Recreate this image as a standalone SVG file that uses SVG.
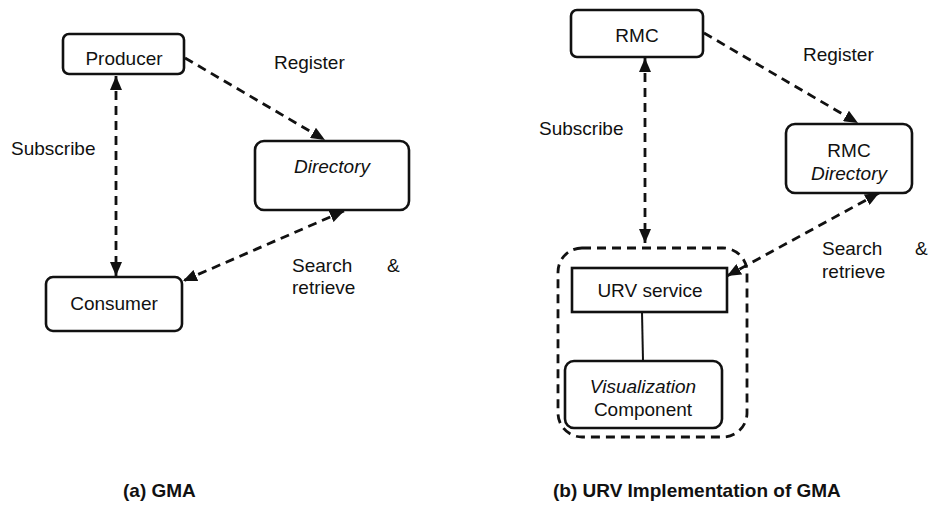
<svg xmlns="http://www.w3.org/2000/svg" width="936" height="506" viewBox="0 0 936 506">
  <style>
    text { font-family: "Liberation Sans", Arial, sans-serif; font-size: 19px; fill: #111; }
    .c { text-anchor: middle; }
    .it { font-style: italic; }
    .cap { font-weight: bold; }
    .box { fill: #fff; stroke: #111; stroke-width: 2.6; }
    .dash { fill: none; stroke: #111; stroke-width: 2.8; stroke-dasharray: 9 6; }
    .solid { fill: none; stroke: #111; stroke-width: 2; }
  </style>
  <defs>
    <marker id="arrow" viewBox="0 0 14 12" refX="14" refY="6" markerWidth="14" markerHeight="12" markerUnits="userSpaceOnUse" orient="auto-start-reverse">
      <path d="M0,0 L14,6 L0,12 z" fill="#111"/>
    </marker>
  </defs>
  <rect width="936" height="506" fill="#fff"/>

  <!-- connectors -->
  <g id="connectors">
    <!-- (a) GMA -->
    <line class="dash" x1="116" y1="76" x2="116" y2="276" marker-start="url(#arrow)" marker-end="url(#arrow)"/>
    <line class="dash" x1="185" y1="58" x2="325" y2="140" marker-end="url(#arrow)"/>
    <line class="dash" x1="344" y1="211" x2="183" y2="281" marker-start="url(#arrow)" marker-end="url(#arrow)"/>
    <!-- (b) URV implementation -->
    <line class="dash" x1="645" y1="58" x2="645" y2="243" marker-start="url(#arrow)" marker-end="url(#arrow)"/>
    <line class="dash" x1="704" y1="33" x2="858" y2="123" marker-end="url(#arrow)"/>
    <line class="dash" x1="879" y1="193" x2="727" y2="276" marker-start="url(#arrow)" marker-end="url(#arrow)"/>
    <line class="solid" x1="642" y1="312" x2="643" y2="361"/>
  </g>

  <!-- (a) GMA nodes -->
  <g id="producer">
    <rect class="box" x="63" y="34" width="121" height="40" rx="6"/>
    <text class="c" x="124" y="65">Producer</text>
  </g>
  <g id="directory">
    <rect class="box" x="255" y="141" width="154" height="69" rx="9"/>
    <text class="c it" x="332" y="173">Directory</text>
  </g>
  <g id="consumer">
    <rect class="box" x="46" y="277" width="136" height="54" rx="7"/>
    <text class="c" x="114" y="310">Consumer</text>
  </g>
  <g id="labels-a">
    <text x="274" y="69">Register</text>
    <text x="11" y="155">Subscribe</text>
    <text x="292" y="272">Search</text>
    <text x="387" y="272">&amp;</text>
    <text x="292" y="294">retrieve</text>
    <text class="cap" x="123" y="497">(a) GMA</text>
  </g>

  <!-- (b) URV implementation nodes -->
  <g id="rmc">
    <rect class="box" x="571" y="10" width="132" height="47" rx="6"/>
    <text class="c" x="637" y="42">RMC</text>
  </g>
  <g id="rmc-directory">
    <rect class="box" x="786" y="124" width="126" height="69" rx="9"/>
    <text class="c" x="849" y="157">RMC</text>
    <text class="c it" x="849" y="180">Directory</text>
  </g>
  <g id="urv-group">
    <rect class="dash" x="558" y="248" width="189" height="189" rx="24"/>
  </g>
  <g id="urv-service">
    <rect class="box" x="572" y="268" width="155" height="44"/>
    <text class="c" x="650" y="297">URV service</text>
  </g>
  <g id="visualization">
    <rect class="box" x="565" y="361" width="157" height="67" rx="9"/>
    <text class="c it" x="643" y="393">Visualization</text>
    <text class="c" x="643" y="416">Component</text>
  </g>
  <g id="labels-b">
    <text x="803" y="61">Register</text>
    <text x="539" y="135">Subscribe</text>
    <text x="822" y="255">Search</text>
    <text x="915" y="255">&amp;</text>
    <text x="822" y="278">retrieve</text>
    <text class="cap" x="553" y="497">(b) URV Implementation of GMA</text>
  </g>
</svg>
